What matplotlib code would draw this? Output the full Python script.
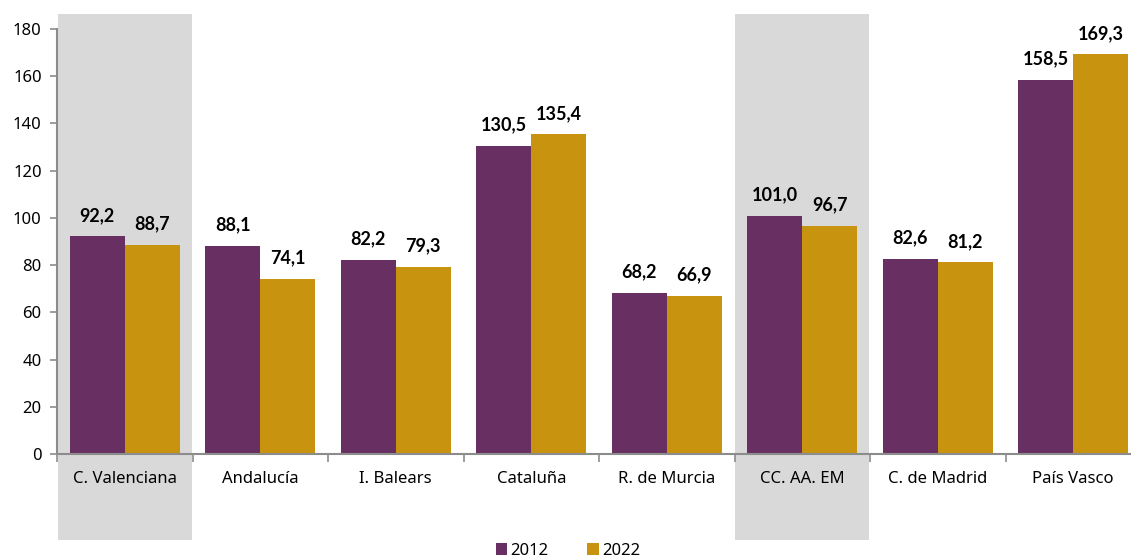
import matplotlib
matplotlib.use("Agg")
import matplotlib.pyplot as plt
import numpy as np
from matplotlib.patches import Rectangle

categories = ["C. Valenciana", "Andalucía", "I. Balears", "Cataluña", "R. de Murcia",
              "CC. AA. EM", "C. de Madrid", "País Vasco"]
v2012 = [92.2, 88.1, 82.2, 130.5, 68.2, 101.0, 82.6, 158.5]
v2022 = [88.7, 74.1, 79.3, 135.4, 66.9, 96.7, 81.2, 169.3]
shaded = ["C. Valenciana", "CC. AA. EM"]

c12 = "#682F63"
c22 = "#C8930F"
grey = "#D9D9D9"

plt.rcParams['font.family'] = ['Noto Sans', 'DejaVu Sans']

W, H = 1131, 558
fig = plt.figure(figsize=(W/100, H/100), dpi=100)
left, right, top, bottom = 57, 1141, 29, 454
ax = fig.add_axes([left/W, 1-bottom/H, (right-left)/W, (bottom-top)/H])

x = np.arange(len(categories))
bw = 0.405
ax.set_xlim(-0.5, len(categories)-0.5)
ax.set_ylim(0, 180)

for i, c in enumerate(categories):
    if c in shaded:
        ax.add_patch(Rectangle((i-0.5+0.005, -36.4), 0.99, 186.4+36.4, facecolor=grey,
                               edgecolor='none', clip_on=False, zorder=0))

b1 = ax.bar(x - bw/2, v2012, bw, color=c12, label="2012", zorder=2)
b2 = ax.bar(x + bw/2, v2022, bw, color=c22, label="2022", zorder=2)

def fmt(v):
    return f"{v:.1f}".replace(".", ",")

for bars, vals in ((b1, v2012), (b2, v2022)):
    for r, v in zip(bars, vals):
        ax.annotate(fmt(v), (r.get_x()+r.get_width()/2, v), xytext=(0, 9),
                    textcoords="offset points", ha="center", va="bottom",
                    fontsize=13, fontweight="bold", family=["Lato", "DejaVu Sans"],
                    color="black", zorder=3)

ax.set_yticks(range(0, 181, 20))
ax.tick_params(axis='y', labelsize=12, length=5, width=1.2, color="#8C8C8C", pad=6)
ax.set_xticks(np.arange(-0.5, len(categories), 1.0))
ax.set_xticklabels([])
ax.set_xticks(x, minor=True)
ax.set_xticklabels(categories, minor=True)
ax.tick_params(axis='x', which='major', length=6, width=1.2, color="#8C8C8C", direction='out')
ax.tick_params(axis='x', which='minor', length=0, labelsize=12, pad=12)

for s in ("top", "right"):
    ax.spines[s].set_visible(False)
for s in ("left", "bottom"):
    ax.spines[s].set_color("#8C8C8C")
    ax.spines[s].set_linewidth(1.5)
ax.set_facecolor("none")
ax.set_axisbelow(False)

fig.legend(handles=[b1, b2], labels=["2012", "2022"], loc="center",
           bbox_to_anchor=(568/W, 1-551/H), ncol=2, frameon=False, fontsize=12,
           handlelength=0.7, handleheight=0.7, handletextpad=0.2, columnspacing=2.3)

fig.savefig("out.png", dpi=100)
